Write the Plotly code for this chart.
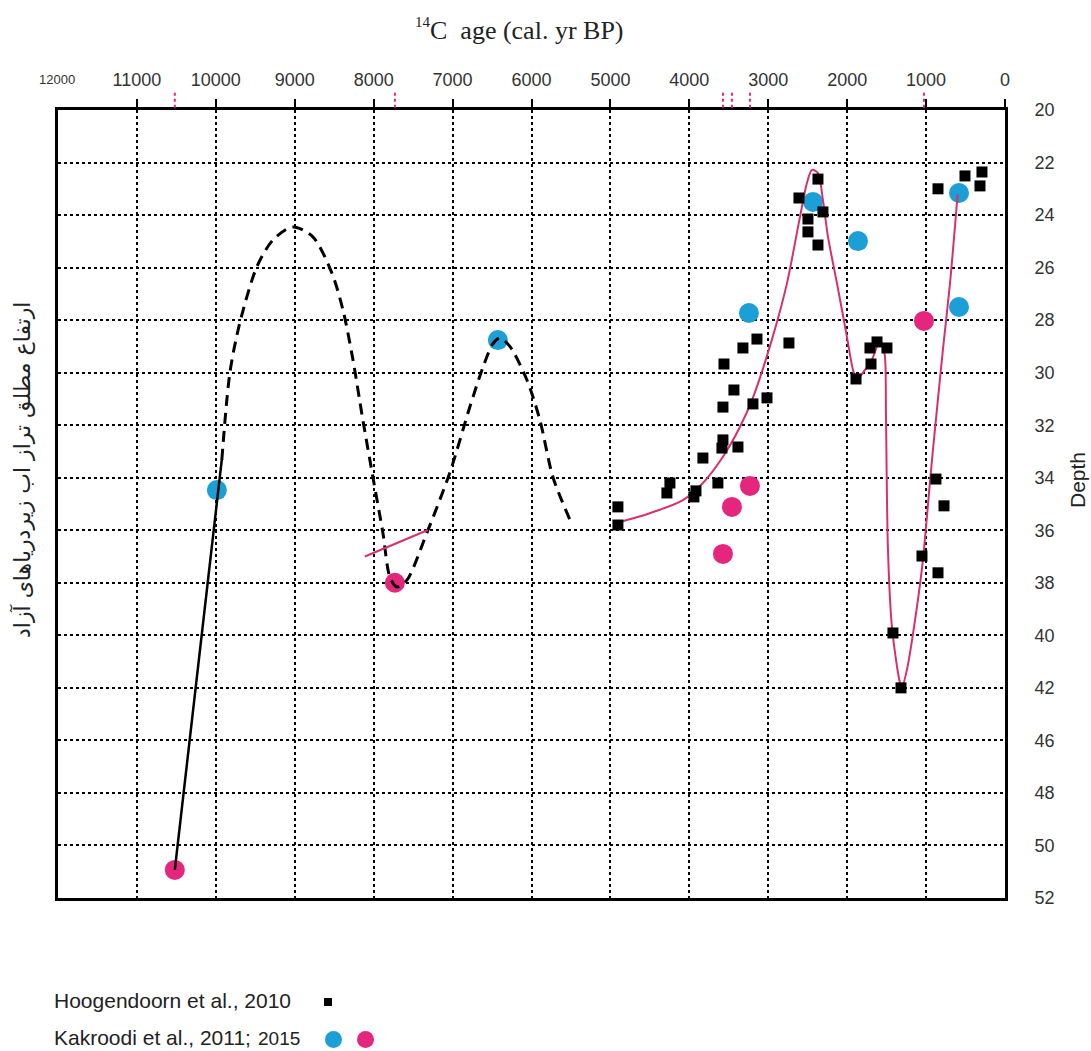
import plotly.graph_objects as go

# ---- Hoogendoorn et al., 2010 (black squares) ----
hoog_age = [2370, 2611, 2307, 2497, 2497, 2370, 849, 507, 292, 317,
            3143, 3321, 2738, 3561, 3435, 3574, 3194, 3016, 1711, 1622,
            1496, 1698, 1888, 3574, 3587, 3384, 3828, 4246, 4284, 3916,
            3942, 3638, 4905, 4905, 875, 773, 1052, 849, 1420, 1318]
hoog_depth = [22.63, 23.35, 23.88, 24.15, 24.64, 25.14, 23.0, 22.51, 22.36, 22.89,
              28.72, 29.06, 28.87, 29.67, 30.66, 31.31, 31.19, 30.96, 29.06, 28.83,
              29.06, 29.67, 30.24, 32.56, 32.87, 32.83, 33.25, 34.2, 34.58, 34.5,
              34.73, 34.2, 35.11, 35.8, 34.05, 35.07, 36.98, 37.62, 39.91, 42.0]

# ---- Kakroodi et al., 2011 (blue) and 2015 (pink) ----
blue_age = [9987, 6426, 2433, 1863, 3245, 583, 583]
blue_depth = [34.47, 28.76, 23.5, 24.99, 27.73, 23.16, 27.5]
pink_age = [10520, 7731, 3574, 3460, 3232, 1027]
pink_depth = [48.93, 38.0, 36.9, 35.11, 34.31, 28.03]

# ---- sea-level curves ----
solid_age = [10520, 9924]
solid_depth = [48.93, 33.3]

dashed_age = [9924, 9822, 9696, 9480, 9277, 9024, 8770, 8530, 8390, 8263, 8137,
              8010, 7883, 7795, 7706, 7579, 7326, 7034, 6781, 6616, 6489, 6400,
              6274, 6058, 5894, 5729, 5513]
dashed_depth = [33.32, 30.0, 28.1, 25.97, 24.95, 24.45, 24.83, 26.2, 27.6, 29.5, 31.8,
                33.97, 36.1, 37.78, 38.16, 37.9, 36.1, 33.8, 31.3, 29.8, 28.9, 28.68,
                29.0, 30.28, 31.8, 33.97, 35.6]

short_age = [8111, 7313]
short_depth = [37.0, 35.99]

curve_age = [4905, 4500, 4081, 3828, 3574, 3359, 3194, 2940, 2763, 2598, 2510, 2446,
             2370, 2307, 2243, 2129, 2003, 1926, 1876, 1800, 1686, 1610, 1559, 1521,
             1508, 1483, 1432, 1331, 1305, 1242, 1115, 1039, 952, 913, 786, 697, 600]
curve_depth = [35.7, 35.35, 34.85, 34.2, 33.2, 32.07, 30.95, 28.6, 26.6, 24.07, 22.78, 22.28,
               22.4, 23.43, 24.83, 26.6, 28.64, 29.9, 30.28, 30.0, 29.5, 28.95, 28.87, 29.4,
               31.7, 36.75, 39.7, 41.8, 41.96, 41.3, 38.9, 37.1, 34.2, 32.94, 29.1, 26.6, 23.2]

# ---- axes ----
age_ticks = list(range(0, 12000, 1000))   # 12000 sits on the frame; labelled separately
age_labels = [str(v) for v in age_ticks]
age_left_label = "12000"
depth_ticks = list(range(20, 52, 2))
depth_labels = ["20", "22", "24", "26", "28", "30", "32", "34", "36", "38",
                "40", "42", "46", "48", "50", "52"]

BLUE = "#1C9FD6"
PINK = "#E5267C"
PINK_LINE = "#D8306F"
SANS = "Liberation Sans, Arial"
SERIF = "Liberation Serif, Times New Roman"

fig = go.Figure()

fig.add_trace(go.Scatter(x=blue_age, y=blue_depth, mode="markers",
                         marker=dict(color=BLUE, size=20, symbol="circle"),
                         showlegend=False))
fig.add_trace(go.Scatter(x=pink_age, y=pink_depth, mode="markers",
                         marker=dict(color=PINK, size=20, symbol="circle"),
                         showlegend=False))

fig.add_trace(go.Scatter(x=solid_age, y=solid_depth, mode="lines",
                         line=dict(color="black", width=2.5), showlegend=False))
fig.add_trace(go.Scatter(x=dashed_age, y=dashed_depth, mode="lines",
                         line=dict(color="black", width=3, dash="11px,7px",
                                   shape="spline", smoothing=0.8),
                         showlegend=False))
fig.add_trace(go.Scatter(x=short_age, y=short_depth, mode="lines",
                         line=dict(color=PINK_LINE, width=2), showlegend=False))
fig.add_trace(go.Scatter(x=curve_age, y=curve_depth, mode="lines",
                         line=dict(color=PINK_LINE, width=2, shape="spline", smoothing=0.8),
                         showlegend=False))

fig.add_trace(go.Scatter(x=hoog_age, y=hoog_depth, mode="markers",
                         marker=dict(color="black", size=11, symbol="square"),
                         showlegend=False))

# pink dated-sample marks above the top axis
for a in pink_age:
    fig.add_shape(type="line", xref="x", yref="paper", x0=a, x1=a,
                  y0=1.003, y1=1.023, line=dict(color=PINK, width=2, dash="dot"))

# pixel -> paper helpers for the hand-drawn legend and titles
W, H, L, B = 947, 788, 58, 898


def px(xp):
    return (xp - L) / W


def py(yp):
    return (B - yp) / H


fig.add_shape(type="rect", xref="paper", yref="paper",
              x0=px(324), x1=px(332), y0=py(1006), y1=py(998),
              fillcolor="black", line=dict(width=0))
fig.add_shape(type="circle", xref="paper", yref="paper",
              x0=px(325), x1=px(342), y0=py(1048), y1=py(1031),
              fillcolor=BLUE, line=dict(width=0))
fig.add_shape(type="circle", xref="paper", yref="paper",
              x0=px(357), x1=px(374), y0=py(1048), y1=py(1031),
              fillcolor=PINK, line=dict(width=0))


def label(x, y, text, size, family=SANS, angle=0, xanchor="center", color="#222"):
    fig.add_annotation(x=px(x), y=py(y), xref="paper", yref="paper",
                       xanchor=xanchor, yanchor="middle", showarrow=False,
                       text=text, textangle=angle,
                       font=dict(family=family, size=size, color=color))


label(52, 1000, "Hoogendoorn et al., 2010", 21, xanchor="left")
label(52, 1037, "Kakroodi et al., 2011;", 21, xanchor="left")
label(256, 1038, "2015", 19, xanchor="left")

# top axis title: "14" set as a small raised prefix
label(413, 22, "14", 15, family=SERIF, xanchor="left")
label(428, 31, "C  age (cal. yr BP)", 26, family=SERIF, xanchor="left")

label(1077, 480, "Depth", 21, angle=-90)
label(22, 470, "ارتفاع مطلق تراز اب زیردریاهای آزاد", 22,
      family="DejaVu Sans", angle=-90)
label(57, 80, age_left_label, 13, color="#333")

fig.update_xaxes(
    side="top", range=[12000, 0], tickvals=age_ticks, ticktext=age_labels,
    ticks="outside", ticklen=8, tickwidth=1.5, tickcolor="black",
    ticklabelstandoff=6,
    tickfont=dict(family=SANS, size=18, color="#333"),
    showgrid=True, gridcolor="black", gridwidth=1.5, griddash="dot",
    showline=True, linecolor="black", linewidth=3, mirror=True, zeroline=False,
)
fig.update_yaxes(
    side="right", range=[50, 20], tickvals=depth_ticks, ticktext=depth_labels,
    ticks="", ticklabelstandoff=23,
    tickfont=dict(family=SANS, size=18, color="#333"),
    showgrid=True, gridcolor="black", gridwidth=1.5, griddash="dot",
    showline=True, linecolor="black", linewidth=3, mirror=True, zeroline=False,
)

fig.update_layout(
    width=1091, height=1051,
    margin=dict(l=58, r=86, t=110, b=153),
    paper_bgcolor="white", plot_bgcolor="white",
    showlegend=False,
)

fig.write_html("out.html")
